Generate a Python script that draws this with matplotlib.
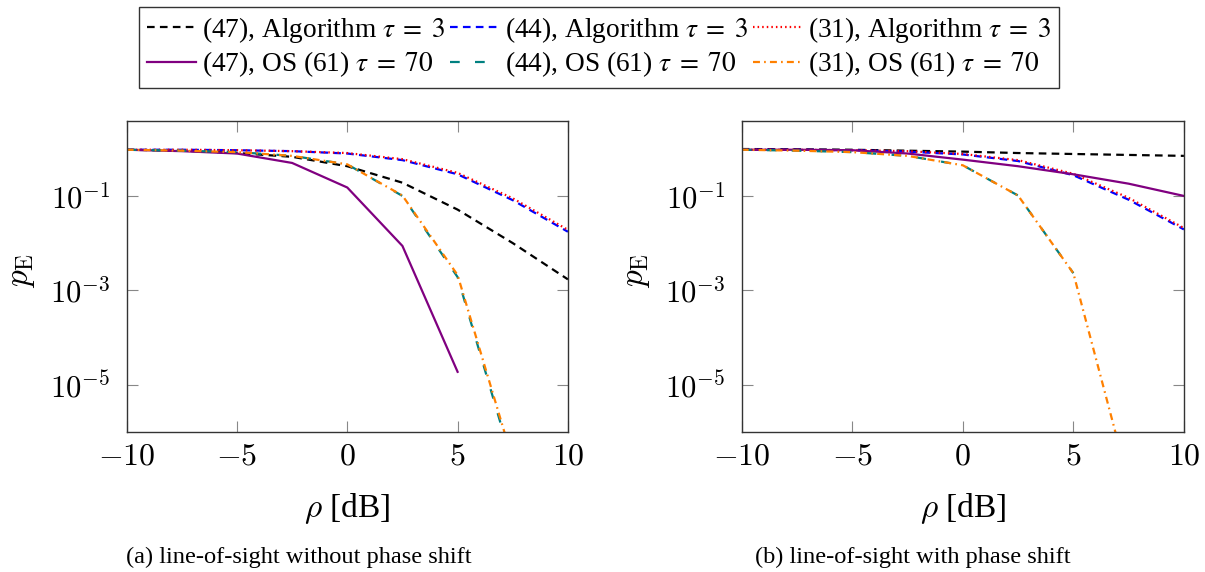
import numpy as np
import matplotlib
matplotlib.use("Agg")
from matplotlib import pyplot as plt
from matplotlib.font_manager import FontProperties

plt.rcParams['font.family'] = ['Liberation Serif', 'DejaVu Serif']
plt.rcParams['mathtext.fontset'] = 'cm'
plt.rcParams['lines.scale_dashes'] = False

# SNR grid [dB]
rho = [-10, -7.5, -5, -2.5, 0, 2.5, 5, 7.5, 10]

# (a) line-of-sight without phase shift
a_alg47 = [0.955, 0.912, 0.813, 0.676, 0.427, 0.191, 0.0513, 0.0100, 0.0017]
a_alg44 = [0.955, 0.955, 0.933, 0.891, 0.794, 0.575, 0.288, 0.0813, 0.0174]
a_alg31 = [0.955, 0.955, 0.933, 0.891, 0.813, 0.603, 0.309, 0.0891, 0.0191]
a_os47 = [0.955, 0.891, 0.794, 0.501, 0.151, 0.0087, 1.86e-5]
a_os44 = [0.955, 0.912, 0.851, 0.708, 0.468, 0.100, 1.9e-3, 2.0e-7]
a_os31 = [0.955, 0.912, 0.851, 0.708, 0.468, 0.102, 2.1e-3, 2.5e-7]

# (b) line-of-sight with phase shift
b_alg47 = [0.989, 0.977, 0.955, 0.912, 0.871, 0.813, 0.776, 0.741, 0.708]
b_alg44 = [0.955, 0.955, 0.933, 0.871, 0.759, 0.550, 0.275, 0.0832, 0.0195]
b_alg31 = [0.955, 0.955, 0.933, 0.891, 0.776, 0.575, 0.295, 0.0912, 0.0209]
b_os47 = [0.955, 0.955, 0.933, 0.794, 0.589, 0.427, 0.288, 0.182, 0.100]
b_os44 = [0.955, 0.912, 0.851, 0.708, 0.447, 0.102, 2.3e-3]
b_os31 = [0.955, 0.912, 0.851, 0.708, 0.447, 0.102, 2.3e-3, 8.5e-8]

labels = [r"(47), Algorithm $\tau\;=\;3$", r"(44), Algorithm $\tau\;=\;3$", r"(31), Algorithm $\tau\;=\;3$",
          r"(47), OS (61) $\tau\;=\;70$", r"(44), OS (61) $\tau\;=\;70$", r"(31), OS (61) $\tau\;=\;70$"]

styles = [
    dict(color="black", dashes=(5.5, 3.8)),
    dict(color="blue", dashes=(5.5, 3.8)),
    dict(color="red", dashes=(1.1, 2.2)),
    dict(color="#800080", linestyle="-"),
    dict(color="#008080", dashes=(7, 11)),
    dict(color="#FF8000", dashes=(5, 3, 1.2, 3)),
]

fig = plt.figure(figsize=(12.05, 5.72), dpi=100)
ax_a = fig.add_axes([0.1051, 0.2453, 0.3662, 0.5432])
ax_b = fig.add_axes([0.6155, 0.2453, 0.3670, 0.5432])

panels = [
    (ax_a, [a_alg47, a_alg44, a_alg31, a_os47, a_os44, a_os31], "(a) line-of-sight without phase shift", 0.2477),
    (ax_b, [b_alg47, b_alg44, b_alg31, b_os47, b_os44, b_os31], "(b) line-of-sight with phase shift", 0.7573),
]

handles = []
for ax, series, caption, cap_x in panels:
    hs = []
    for vals, st, lab in zip(series, styles, labels):
        h, = ax.plot(rho[:len(vals)], vals, linewidth=1.6, label=lab, **st)
        hs.append(h)
    handles = hs
    ax.set_yscale("log")
    ax.set_xlim(-10, 10)
    ax.set_ylim(1e-6, 10 ** 0.59)
    ax.set_xticks([-10, -5, 0, 5, 10])
    ax.set_xticklabels([r"$-10$", r"$-5$", r"$0$", r"$5$", r"$10$"])
    ax.set_yticks([1e-1, 1e-3, 1e-5])
    ax.set_yticklabels([r"$10^{-1}$", r"$10^{-3}$", r"$10^{-5}$"])
    ax.minorticks_off()
    ax.tick_params(direction="in", length=8, width=0.8, color="#888888",
                   top=True, right=True, pad=9)
    ax.tick_params(axis="x", labelsize=23, pad=8)
    ax.tick_params(axis="y", labelsize=22, pad=12)
    for sp in ax.spines.values():
        sp.set_linewidth(1.0)
        sp.set_color("#333333")
    ax.set_xlabel(r"$\rho$ [dB]", fontsize=24)
    ax.xaxis.set_label_coords(0.5, -0.19)
    ax.set_ylabel(r"$p_\mathrm{E}$", fontsize=24)
    ax.yaxis.set_label_coords(-0.237, 0.52)
    ax.yaxis.label.set_va("center")
    fig.text(cap_x, 0.026, caption, ha="center", va="center", fontsize=17.6)

# legend entries are filled column by column, so interleave to get rows
order = [0, 3, 1, 4, 2, 5]
leg_font = FontProperties(family="Liberation Serif", size=19.7, math_fontfamily="stix")
fig.legend([handles[i] for i in order], [labels[i] for i in order],
           loc="upper center", bbox_to_anchor=(0.497, 0.988), ncol=3,
           prop=leg_font, frameon=True, fancybox=False, edgecolor="black",
           handlelength=1.8, handletextpad=0.2, columnspacing=0.2,
           borderpad=0.3, labelspacing=0.17, borderaxespad=0.0)

fig.savefig("out.png", dpi=100)
